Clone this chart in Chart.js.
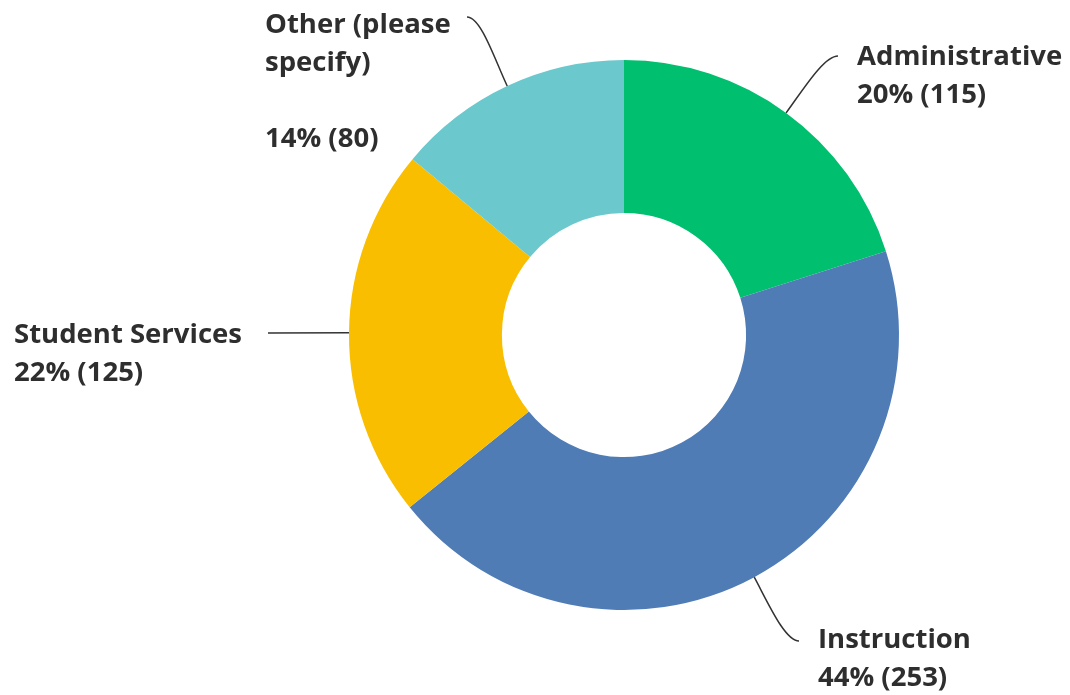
<!DOCTYPE html>
<html>
<head>
<meta charset="utf-8">
<style>
  html, body { margin: 0; padding: 0; background: #fff; }
  #wrap { width: 1070px; height: 695px; position: relative; }
</style>
</head>
<body>
<div id="wrap"><canvas id="role-chart" width="1070" height="695"></canvas></div>

<script src="https://cdn.jsdelivr.net/npm/chart.js"></script>
<script>
const categories = ['Administrative', 'Instruction', 'Student Services', ['Other (please', 'specify)']];
const counts = [115, 253, 125, 80];
const sliceColors = ['#00bf6f', '#507cb6', '#f9be00', '#6bc8cd'];

// where each callout's text sits and where its leader line ends
const callouts = [
    { x: 857, y: 57, align: 'left', lineEnd: [838, 56], gap: 0 },
    { x: 818, y: 640, align: 'left', lineEnd: [799, 641], gap: 0 },
    { x: 14, y: 335, align: 'left', lineEnd: [268, 333], gap: 0 },
    { x: 265, y: 25, align: 'left', lineEnd: [467, 17], gap: 1 },
];

const total = counts.reduce((a, b) => a + b, 0);
const LINE_H = 38;
const FONT = '700 27.5px "Open Sans"';

const calloutPlugin = {
    id: 'callouts',
    afterDatasetsDraw(chart) {
        const ctx = chart.ctx;
        const arcs = chart.getDatasetMeta(0).data;
        ctx.save();
        ctx.font = FONT;
        ctx.fillStyle = '#2e2e2e';
        ctx.strokeStyle = '#333';
        ctx.lineWidth = 1.5;
        ctx.textBaseline = 'middle';

        arcs.forEach((arc, i) => {
            const c = callouts[i];
            const mid = (arc.startAngle + arc.endAngle) / 2;
            const sx = arc.x + Math.cos(mid) * arc.outerRadius;
            const sy = arc.y + Math.sin(mid) * arc.outerRadius;
            const [ex, ey] = c.lineEnd;

            // leader line: leaves the slice radially, flattens out near the text
            ctx.beginPath();
            ctx.moveTo(sx, sy);
            if (Math.abs(ey - sy) < 6) {
                ctx.lineTo(ex, ey);
            } else {
                const dir = ex > sx ? 1 : -1;
                const c1x = sx + Math.cos(mid) * 30;
                const c1y = sy + Math.sin(mid) * 30;
                ctx.bezierCurveTo(c1x, c1y, ex - dir * 14, ey, ex, ey);
            }
            ctx.stroke();

            const name = Array.isArray(categories[i]) ? categories[i] : [categories[i]];
            const pct = Math.round(counts[i] / total * 100);
            const lines = name.concat(Array(c.gap).fill(''), [pct + '% (' + counts[i] + ')']);
            ctx.textAlign = c.align;
            lines.forEach((t, k) => ctx.fillText(t, c.x, c.y + k * LINE_H));
        });
        ctx.restore();
    }
};

const ctx = document.getElementById('role-chart').getContext('2d');
new Chart(ctx, {
    type: 'doughnut',
    data: {
        labels: categories,
        datasets: [{
            data: counts,
            backgroundColor: sliceColors,
            borderWidth: 0,
        }],
    },
    options: {
        responsive: false,
        animation: false,
        cutout: '44.4%',
        layout: { padding: { left: 349, right: 171, top: 60, bottom: 85 } },
        plugins: {
            legend: { display: false },
            tooltip: { enabled: false },
        },
    },
    plugins: [calloutPlugin],
});
</script>
</body>
</html>
